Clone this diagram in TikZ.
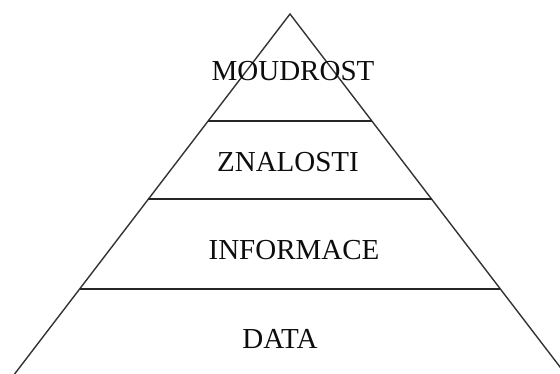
\documentclass[tikz,border=0pt]{standalone}
\usepackage{fontspec}
\setmainfont{Liberation Serif}
\begin{document}
\begin{tikzpicture}[x=1pt,y=-1pt,
  side/.style={draw=black!80, line width=1.4pt},
  tier/.style={draw=black!85, line width=2pt},
  label/.style={font=\fontsize{29}{32}\selectfont, text=black!95, inner sep=0pt}]
  \useasboundingbox (0,0) rectangle (560,374);
  \clip (0,0) rectangle (560,374);
  % pyramid outline
  \coordinate (apex) at (290,14);
  \coordinate (bl) at (290-0.765*380,394);
  \coordinate (br) at (290+0.765*380,394);
  \draw[side] (bl) -- (apex) -- (br);
  % tier boundaries
  \coordinate (l1) at (290-0.765*107,121);
  \coordinate (r1) at (290+0.765*107,121);
  \coordinate (l2) at (290-0.765*185,199);
  \coordinate (r2) at (290+0.765*185,199);
  \coordinate (l3) at (290-0.765*275,289);
  \coordinate (r3) at (290+0.765*275,289);
  \draw[tier] (l1) -- (r1);
  \draw[tier] (l2) -- (r2);
  \draw[tier] (l3) -- (r3);
  % labels
  \node[label] (moudrost) at (293,71) {MOUDROST};
  \node[label] (znalosti) at (288,162) {ZNALOSTI};
  \node[label] (informace) at (294,250) {INFORMACE};
  \node[label] (data) at (280,339) {DATA};
\end{tikzpicture}
\end{document}
